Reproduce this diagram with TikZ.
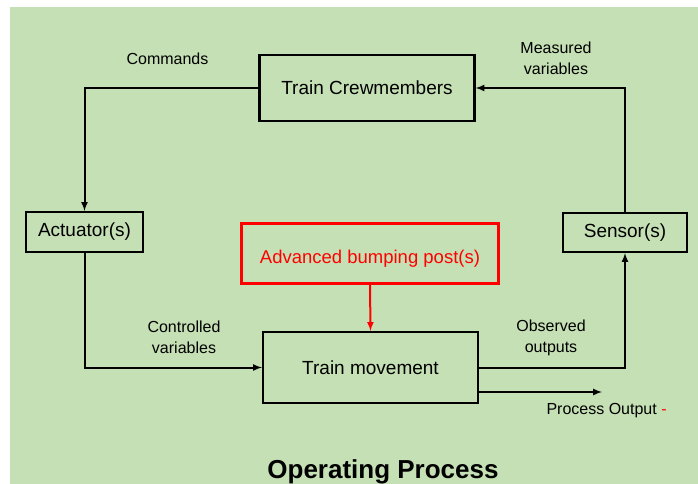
\documentclass[tikz,border=0pt]{standalone}
\usepackage{fontspec}
\setmainfont{Liberation Sans}
\usetikzlibrary{arrows}
\definecolor{bggreen}{RGB}{197,224,180}
\definecolor{pptred}{RGB}{255,0,0}

\begin{document}
\begin{tikzpicture}[x=1pt, y=-1pt,
  every node/.style = {align=center, font=\fontsize{16}{21}\selectfont},
  block/.style = {shape=rectangle, draw, line width=2.2pt, inner sep=0pt,
    font=\fontsize{19}{23}\selectfont},
  link/.style = {line width=2pt, -latex}]
  \useasboundingbox (0,0) rectangle (698,484);
  \fill[bggreen] (10,7) rectangle (698,484);

  \node[block, minimum width=215pt, minimum height=66pt] (crew) at (367,88) {Train Crewmembers};
  \node[block, minimum width=117pt, minimum height=40pt] (act) at (84.5,232) {Actuator(s)};
  \node[block, minimum width=124pt, minimum height=39pt] (sens) at (625,232.5) {Sensor(s)};
  \node[block, draw=pptred, text=pptred, minimum width=257pt, minimum height=60pt,
    font=\fontsize{18.5}{22}\selectfont] (bump) at (370,253.5)
    {\raisebox{-5pt}[\height][\depth]{Advanced bumping post(s)}};
  \node[block, minimum width=215pt, minimum height=71pt] (move) at (370.5,367.5) {Train movement};
  \coordinate (out) at (602,392);

  \node (cmd) at (167.5,59) {Commands};
  \node (meas) at (556,58) {Measured\\variables};
  \node (ctrl) at (184,337) {Controlled\\variables};
  \node (obs) at (551,338) {Observed\\outputs};
  \node[anchor=west] (proc) at (543,411) {Process Output \textcolor{pptred}{-}};
  \node[anchor=base, font=\bfseries\fontsize{26}{30}\selectfont] (title) at (383,478) {Operating Process};

  \draw[link] (crew.west) -| (act.north);
  \draw[link] (act.south) |- (move.west);
  \draw[link] (move.east) -| (sens.south);
  \draw[link] (sens.north) |- (crew.east);
  \draw[link] (move.east |- out) -- (out);
  \draw[link, draw=pptred, fill=pptred] (bump.south) -- (move.north);
\end{tikzpicture}
\end{document}
